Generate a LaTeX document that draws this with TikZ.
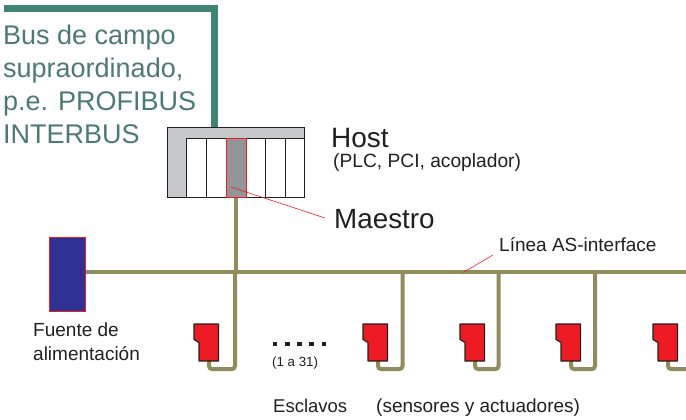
\documentclass[tikz,border=0pt]{standalone}
\usepackage{fontspec}
\setmainfont{Liberation Sans}
\usetikzlibrary{positioning}
\definecolor{busgreen}{RGB}{63,133,115}
\definecolor{bustext}{RGB}{75,122,116}
\definecolor{lineolive}{RGB}{144,140,94}
\definecolor{hostgray}{RGB}{198,200,202}
\definecolor{slotgray}{RGB}{147,149,152}
\definecolor{slavered}{RGB}{237,28,36}
\definecolor{psublue}{RGB}{46,49,146}
\definecolor{textdark}{RGB}{35,31,32}
\tikzset{
  asline/.style={lineolive,line width=4pt,rounded corners=3pt},
  leader/.style={slavered,line width=0.6pt},
  slotbox/.style={draw=textdark,line width=1.2pt,fill=white,minimum width=20pt,minimum height=59pt,inner sep=0pt,anchor=north west},
  slavebox/.style={draw=textdark,line width=1.2pt,fill=slavered,line join=round},
  label/.style={textdark,anchor=base west,inner sep=0pt},
}
\begin{document}
\begin{tikzpicture}[x=1pt,y=-1pt]
  \useasboundingbox (0,0) rectangle (686,420);
  % --- Upper bus ---
  \coordinate (busstart) at (4,8.5);
  \coordinate (buscorner) at (214,8.5);
  \node[draw=textdark,line width=1.2pt,fill=hostgray,minimum width=137pt,minimum height=70pt,inner sep=0pt,anchor=north west] (host) at (167,127) {};
  \draw[busgreen,line width=7pt] (busstart) -- (buscorner) -- (buscorner |- host.north);
  \node[bustext,align=left,anchor=north west,inner sep=0pt,font=\fontsize{27}{33}\selectfont] (bustxt) at (3,25)
    {Bus de campo\\supraordinado,\\p.e. PROFIBUS\\INTERBUS};
  % --- Host ---
  \foreach \n/\x/\w in {a/186/20,b/206/19.5,c/245.5/19.5,d/265/20,e/285/19}
    \node[slotbox,minimum width=\w pt] (slot\n) at (\x,138) {};
  \node[slotbox,fill=slotgray,draw=slavered,minimum width=20pt] (master) at (225.5,138) {};
  \node[label,font=\fontsize{28}{28}\selectfont] (hosttxt) at (331,147) {Host};
  \node[label,font=\fontsize{19.2}{19}\selectfont] (hostsub) at (333,167) {(PLC, PCI, acoplador)};
  \node[label,font=\fontsize{27.8}{28}\selectfont] (mastertxt) at (334,228) {Maestro};
  \coordinate (mastertip) at (231,187);
  \coordinate (masterend) at (325,218);
  % --- AS-interface line ---
  \node[draw=slavered,line width=0.8pt,fill=psublue,minimum width=36pt,minimum height=74pt,inner sep=0pt,anchor=north west] (psu) at (49,236.5) {};
  \coordinate (lineend) at (686,272);
  \draw[asline] (psu.east |- lineend) -- (lineend);
  \draw[asline] (host.south -| master.south) -- (master.south |- lineend);
  \node[label,font=\fontsize{19}{19}\selectfont] (linetxt) at (499,251) {Línea AS-interface};
  \coordinate (linetip) at (463,272.5);
  \coordinate (lineleader) at (493,255);
  % --- Slaves ---
  \foreach \i/\x/\t in {1/194/235,2/363/402.5,3/460/498.5,4/556/595}{
    \draw[asline] (\t,272) -- (\t,369) -- (\x+15,369) -- (\x+15,355);
    \draw[slavebox] (\x,324) -- ++(24.5,0) -- ++(0,37) -- ++(-19.5,0) -- ++(0,-18.5) -- ++(-5,-3) -- cycle;
  }
  \draw[asline] (686,369) -- (668,369) -- (668,355);
  \draw[slavebox] (653,324) -- ++(24.5,0) -- ++(0,37) -- ++(-19.5,0) -- ++(0,-18.5) -- ++(-5,-3) -- cycle;
  \draw[leader] (mastertip) -- (masterend);
  \draw[leader] (linetip) -- (lineleader);
  % --- Labels ---
  \node[textdark,align=left,anchor=north west,inner sep=0pt,font=\fontsize{19}{24}\selectfont] (psutxt) at (33,323) {Fuente de\\alimentación};
  \foreach \x in {275,287.2,299.4,311.6,323.8}
    \fill[textdark] (\x-2.2,341.8) rectangle ++(4.6,4.6);
  \node[label,font=\fontsize{13.3}{14}\selectfont] (rangetxt) at (272,366) {(1 a 31)};
  \node[label,font=\fontsize{18.5}{19}\selectfont] (slavetxt) at (273,412) {Esclavos};
  \node[label,font=\fontsize{19}{19}\selectfont] (sensortxt) at (376,412) {(sensores y actuadores)};
\end{tikzpicture}
\end{document}
